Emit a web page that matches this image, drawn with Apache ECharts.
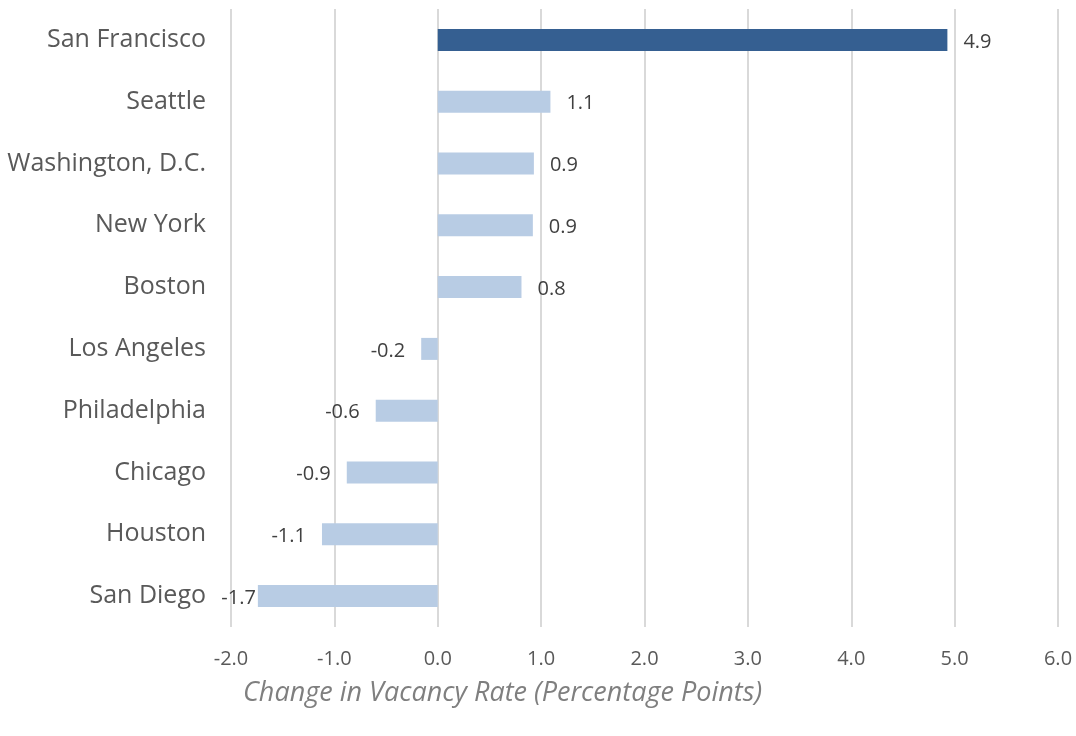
<!DOCTYPE html>
<html><head><meta charset="utf-8">
<script src="https://cdn.jsdelivr.net/npm/echarts@6/dist/echarts.min.js"></script>
<style>html,body{margin:0;padding:0;background:#fff}#c{width:1076px;height:736px}</style>
</head><body><div id="c"></div>
<script>
const categories = ["San Francisco","Seattle","Washington, D.C.","New York","Boston","Los Angeles","Philadelphia","Chicago","Houston","San Diego"];
const values = [4.93, 1.09, 0.93, 0.92, 0.81, -0.16, -0.6, -0.88, -1.12, -1.74];
const highlight = "San Francisco";
const axisTitle = "Change in Vacancy Rate (Percentage Points)";

const chart = echarts.init(document.getElementById('c'));
const minVal = Math.min(...values);
const data = categories.map((c, i) => ({
  value: values[i],
  itemStyle: { color: c === highlight ? '#355F91' : '#B8CCE4' },
  label: { position: values[i] >= 0 ? 'right' : 'left', distance: values[i] === minVal ? 2 : 16 }
}));
chart.setOption({
  animation: false,
  title: {
    text: axisTitle, left: 238, top: 675,
    textStyle: { fontFamily: 'Open Sans', fontStyle: 'italic', fontWeight: 'normal', fontSize: 27, color: '#7F7F7F' }
  },
  grid: { left: 231, right: 18, top: 9, bottom: 109 },
  xAxis: {
    type: 'value', min: -2, max: 6, interval: 1,
    axisLine: { show: false }, axisTick: { show: false },
    splitLine: { lineStyle: { color: '#D9D9D9', width: 2 } },
    axisLabel: { formatter: v => v.toFixed(1), color: '#595959', fontSize: 20, fontFamily: 'Open Sans', margin: 22 }
  },
  yAxis: {
    type: 'category', data: categories, inverse: true,
    axisLine: { show: false }, axisTick: { show: false },
    axisLabel: { color: '#595959', fontSize: 25, fontFamily: 'Open Sans', margin: 25, padding: [4, 0, 0, 0] }
  },
  series: [{
    type: 'bar', data: data, barWidth: 22,
    label: {
      show: true, color: '#404040', fontSize: 20, fontFamily: 'Open Sans', offset: [0, 2],
      formatter: p => p.value.toFixed(1)
    }
  }]
});
</script></body></html>
